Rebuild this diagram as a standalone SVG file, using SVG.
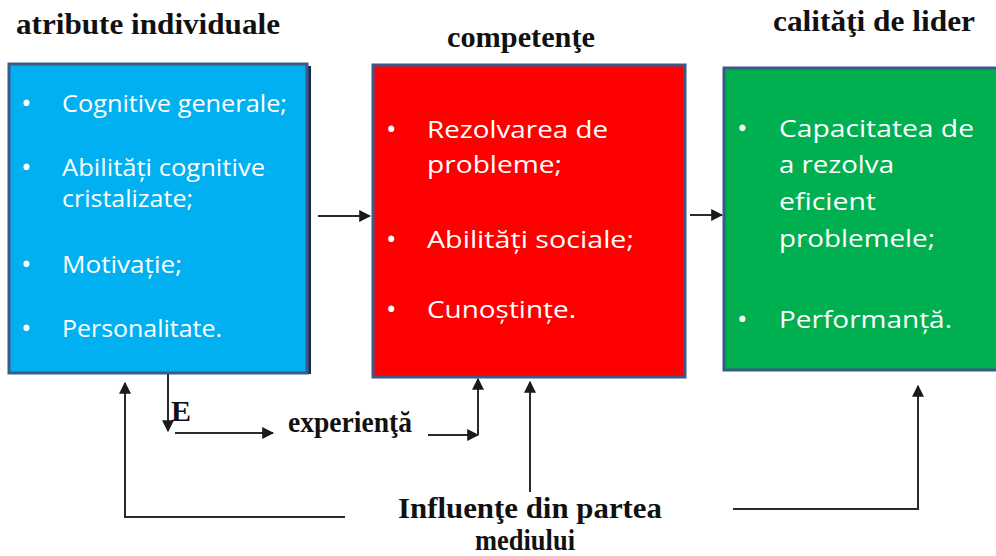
<svg xmlns="http://www.w3.org/2000/svg" width="996" height="556" viewBox="0 0 996 556">
<style>
.title{font-family:"Liberation Serif","Times New Roman",serif;font-weight:bold;font-size:30px;fill:#111}
.body{font-family:"Open Sans","Liberation Sans",sans-serif;font-size:24px;fill:#fff}
.bul{font-size:28px}
.conn{stroke:#2a2a2a;stroke-width:2;fill:none}
.box{stroke:#3b5a8a;stroke-width:3}
</style>
<defs>
<marker id="ah" viewBox="0 0 10 10" refX="9" refY="5" markerWidth="6" markerHeight="6" orient="auto" markerUnits="strokeWidth">
<path d="M0,0 L10,5 L0,10 z" fill="#1a1a1a"/>
</marker>
</defs>
<rect width="996" height="556" fill="#fff"/>

<text class="title" x="16" y="34" textLength="264" lengthAdjust="spacingAndGlyphs">atribute individuale</text>
<text class="title" x="447" y="47" textLength="148" lengthAdjust="spacingAndGlyphs">competenţe</text>
<text class="title" x="773" y="31" textLength="202" lengthAdjust="spacingAndGlyphs">calităţi de lider</text>

<g id="node-atribute">
<rect x="307" y="66" width="4" height="308" fill="#1b2b4a"/>
<rect class="box" x="9" y="64" width="298" height="309" fill="#00b0f0"/>
<g class="body">
<text class="bul" x="21" y="113">•</text><text x="62" y="112" textLength="225" lengthAdjust="spacingAndGlyphs">Cognitive generale;</text>
<text class="bul" x="21" y="177">•</text><text x="62" y="176" textLength="203" lengthAdjust="spacingAndGlyphs">Abilități cognitive</text>
<text x="62" y="207" textLength="131" lengthAdjust="spacingAndGlyphs">cristalizate;</text>
<text class="bul" x="21" y="274">•</text><text x="62" y="273" textLength="120" lengthAdjust="spacingAndGlyphs">Motivație;</text>
<text class="bul" x="21" y="338">•</text><text x="62" y="337" textLength="160" lengthAdjust="spacingAndGlyphs">Personalitate.</text>
</g>
</g>

<g id="node-competente">
<rect class="box" x="373" y="65" width="312" height="312" fill="#ff0000"/>
<g class="body">
<text class="bul" x="386" y="139">•</text><text x="427" y="138" textLength="181" lengthAdjust="spacingAndGlyphs">Rezolvarea de</text>
<text x="427" y="173" textLength="135" lengthAdjust="spacingAndGlyphs">probleme;</text>
<text class="bul" x="386" y="249">•</text><text x="427" y="248" textLength="207" lengthAdjust="spacingAndGlyphs">Abilități sociale;</text>
<text class="bul" x="386" y="319">•</text><text x="427" y="318" textLength="149" lengthAdjust="spacingAndGlyphs">Cunoștințe.</text>
</g>
</g>

<g id="node-calitati">
<rect class="box" x="724" y="68" width="280" height="302" fill="#00b050"/>
<g class="body">
<text class="bul" x="737" y="138">•</text><text x="779" y="137" textLength="195" lengthAdjust="spacingAndGlyphs">Capacitatea de</text>
<text x="779" y="173" textLength="115" lengthAdjust="spacingAndGlyphs">a rezolva</text>
<text x="779" y="210" textLength="97" lengthAdjust="spacingAndGlyphs">eficient</text>
<text x="779" y="247" textLength="156" lengthAdjust="spacingAndGlyphs">problemele;</text>
<text class="bul" x="737" y="329">•</text><text x="779" y="328" textLength="173" lengthAdjust="spacingAndGlyphs">Performanță.</text>
</g>
</g>

<g id="node-experienta">
<text class="title" x="288" y="432" font-size="25" textLength="124" lengthAdjust="spacingAndGlyphs">experienţă</text>
<text class="title" x="171" y="421" font-size="16">E</text>
</g>

<g id="node-influente">
<text class="title" x="398" y="518" textLength="264" lengthAdjust="spacingAndGlyphs">Influenţe din partea</text>
<text class="title" x="475" y="550" font-size="28" textLength="100" lengthAdjust="spacingAndGlyphs">mediului</text>
</g>

<g id="connectors">
<line class="conn" x1="318" y1="216" x2="370" y2="216" marker-end="url(#ah)"/>
<line class="conn" x1="690" y1="215" x2="722" y2="215" marker-end="url(#ah)"/>
<line class="conn" x1="168" y1="374" x2="168" y2="431" marker-end="url(#ah)"/>
<line class="conn" x1="175" y1="433" x2="273" y2="433" marker-end="url(#ah)"/>
<line class="conn" x1="428" y1="435" x2="478" y2="435" marker-end="url(#ah)"/>
<line class="conn" x1="478" y1="435" x2="478" y2="379" marker-end="url(#ah)"/>
<polyline class="conn" points="345,517 125,517 125,383" marker-end="url(#ah)"/>
<line class="conn" x1="530" y1="492" x2="530" y2="382" marker-end="url(#ah)"/>
<polyline class="conn" points="733,509 918,509 918,386" marker-end="url(#ah)"/>
</g>
</svg>
